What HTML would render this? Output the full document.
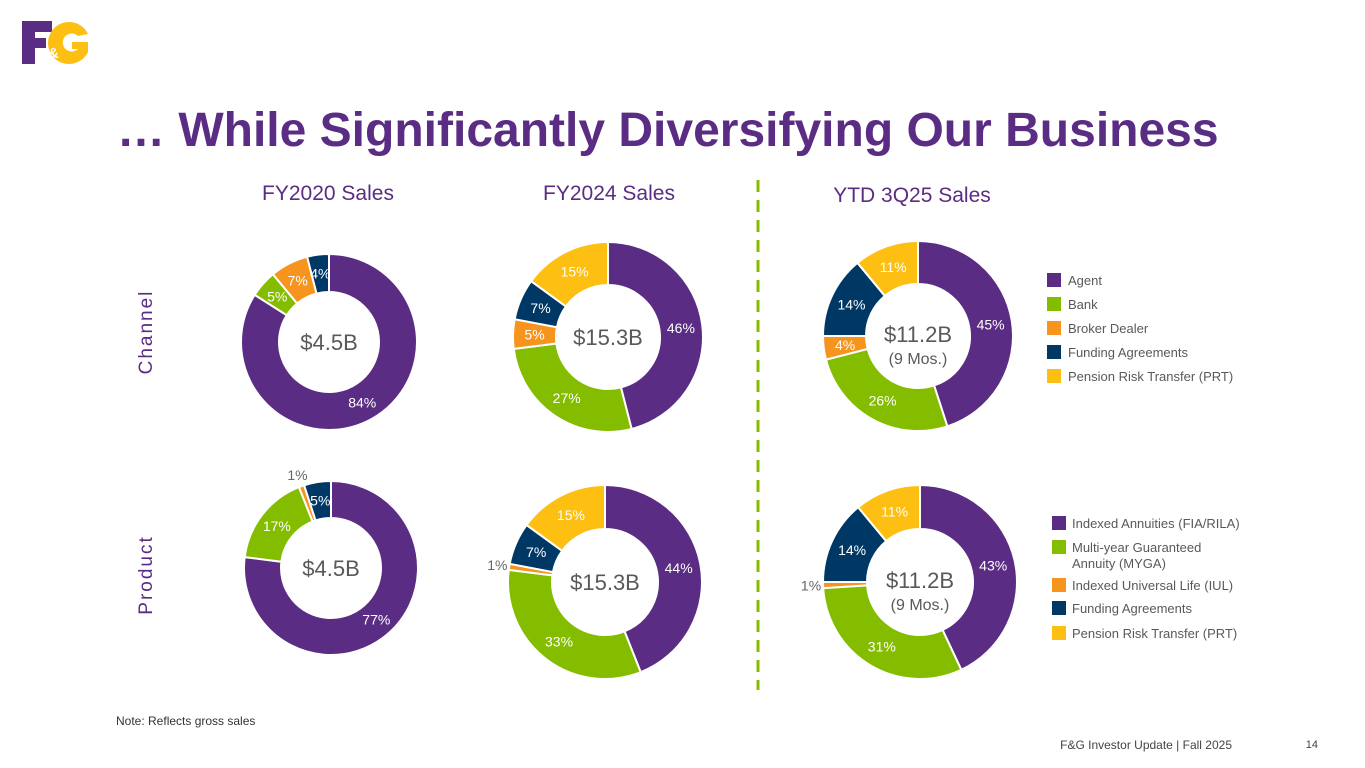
<!DOCTYPE html>
<html><head><meta charset="utf-8"><style>
body{margin:0;background:#fff;}
svg{display:block;font-family:"Liberation Sans",sans-serif;}
</style></head><body>
<svg id="s" width="1365" height="768" viewBox="0 0 1365 768">
<g>
<rect x="22" y="21" width="13" height="43" fill="#5b2c83"/>
<rect x="22" y="21" width="30" height="11" fill="#5b2c83"/>
<rect x="22" y="38" width="24" height="10" fill="#5b2c83"/>
<path d="M88 34 A21 21 0 1 0 88 52 L88 42 L72 42 L72 49 L78 49 A9 9 0 1 1 78 36 Z" fill="#fdbf12"/>
<text x="48" y="58" font-size="15" font-weight="bold" fill="#fff">&amp;</text>
</g>
<text x="117" y="146" font-size="48" font-weight="bold" fill="#5b2c83">… While Significantly Diversifying Our Business</text>
<text x="328" y="200" font-size="21" fill="#5b2c83" text-anchor="middle">FY2020 Sales</text>
<text x="609" y="200" font-size="21" fill="#5b2c83" text-anchor="middle">FY2024 Sales</text>
<text x="912" y="202" font-size="21" fill="#5b2c83" text-anchor="middle">YTD 3Q25 Sales</text>
<text transform="translate(152,332) rotate(-90)" font-size="19" fill="#5b2c83" text-anchor="middle" letter-spacing="2">Channel</text>
<text transform="translate(152,575) rotate(-90)" font-size="19" fill="#5b2c83" text-anchor="middle" letter-spacing="2">Product</text>
<line x1="758" y1="180" x2="758" y2="690" stroke="#84bd00" stroke-width="3" stroke-dasharray="12,8"/>
<g id="donuts"></g>
<g id="legends"></g>
<text x="116" y="725" font-size="12" fill="#333">Note:  Reflects gross sales</text>
<text x="1232" y="749" font-size="12" fill="#444" text-anchor="end">F&amp;G Investor Update |  Fall 2025</text>
<text x="1318" y="748" font-size="11" fill="#444" text-anchor="end">14</text>
</svg>
<script>
const colors=["#5b2c83","#84bd00","#f7941d","#003865","#fdbf12"];
const channelFY20=[84,5,7,4,0];
const channelFY24=[46,27,5,7,15];
const channelYTD=[45,26,4,14,11];
const productFY20=[77,17,1,5,0];
const productFY24=[44,33,1,7,15];
const productYTD=[43,31,1,14,11];
const totals=["$4.5B","$15.3B","$11.2B","$4.5B","$15.3B","$11.2B"];
const channelLegend=["Agent","Bank","Broker Dealer","Funding Agreements","Pension Risk Transfer (PRT)"];
const productLegend=[["Indexed Annuities (FIA/RILA)"],["Multi-year Guaranteed","Annuity (MYGA)"],["Indexed Universal Life (IUL)"],["Funding Agreements"],["Pension Risk Transfer (PRT)"]];
const NS="http://www.w3.org/2000/svg";
function mk(tag,attrs,parent){const e=document.createElementNS(NS,tag);for(const k in attrs)e.setAttribute(k,attrs[k]);parent.appendChild(e);return e;}
const charts=[
 {d:channelFY20,cx:329,cy:342,r:88,ri:50,name:"fy2020-channel"},
 {d:channelFY24,cx:608,cy:337,r:95,ri:52,name:"fy2024-channel"},
 {d:channelYTD,cx:918,cy:336,r:95,ri:52,name:"ytd-channel",sub:true},
 {d:productFY20,cx:331,cy:568,r:87,ri:50,name:"fy2020-product"},
 {d:productFY24,cx:605,cy:582,r:97,ri:53,name:"fy2024-product"},
 {d:productYTD,cx:920,cy:582,r:97,ri:53,name:"ytd-product",sub:true}];
const G=document.getElementById('donuts');
function pt(cx,cy,r,a){return [cx+r*Math.sin(a),cy-r*Math.cos(a)];}
charts.forEach((c,ci)=>{
 const g=mk('g',{},G);
 
 
 const sum=c.d.reduce((a,b)=>a+b,0);
 let a0=0;
 c.d.forEach((v,i)=>{
  if(v<=0)return;
  const a1=a0+v/sum*2*Math.PI;
  const [x1,y1]=pt(c.cx,c.cy,c.r,a0),[x2,y2]=pt(c.cx,c.cy,c.r,a1);
  const [x3,y3]=pt(c.cx,c.cy,c.ri,a1),[x4,y4]=pt(c.cx,c.cy,c.ri,a0);
  const lg=(a1-a0)>Math.PI?1:0;
  const p=mk('path',{d:`M${x1} ${y1}A${c.r} ${c.r} 0 ${lg} 1 ${x2} ${y2}L${x3} ${y3}A${c.ri} ${c.ri} 0 ${lg} 0 ${x4} ${y4}Z`,fill:colors[i],stroke:"#fff","stroke-width":2},g);
  
  
  const am=(a0+a1)/2;
  const small=v<=1;
  const lr=small?c.r+12:(c.r+c.ri)/2;
  const [lx,ly]=pt(c.cx,c.cy,lr,am);
  const t=mk('text',{x:lx,y:ly+5,"font-size":14,"text-anchor":"middle",fill:small?"#666":"#fff"},g);
  t.textContent=v+"%";
  
  
  a0=a1;
 });
 const tt=mk('text',{x:c.cx,y:c.sub?c.cy+6:c.cy+8,"font-size":22,"text-anchor":"middle",fill:"#595959"},g);
 tt.textContent=totals[ci];
 
 
 if(c.sub){const s=mk('text',{x:c.cx,y:c.cy+28,"font-size":16,"text-anchor":"middle",fill:"#595959"},g);s.textContent="(9 Mos.)";
  
  }
});
const L=document.getElementById('legends');
const cy=[280,304,328,352,376];
channelLegend.forEach((t,i)=>{
 const g=mk('g',{},L);
 
 
 mk('rect',{x:1047,y:cy[i]-7,width:14,height:14,fill:colors[i]},g);
 const tx=mk('text',{x:1068,y:cy[i]+5,"font-size":13,fill:"#595959"},g);tx.textContent=t;
});
const py=[523,547,585,608,633];
productLegend.forEach((t,i)=>{
 const g=mk('g',{},L);
 
 
 mk('rect',{x:1052,y:py[i]-7,width:14,height:14,fill:colors[i]},g);
 t.forEach((line,j)=>{const tx=mk('text',{x:1072,y:py[i]+5+j*16,"font-size":13,fill:"#595959"},g);tx.textContent=line;});
});
</script>
</body></html>
